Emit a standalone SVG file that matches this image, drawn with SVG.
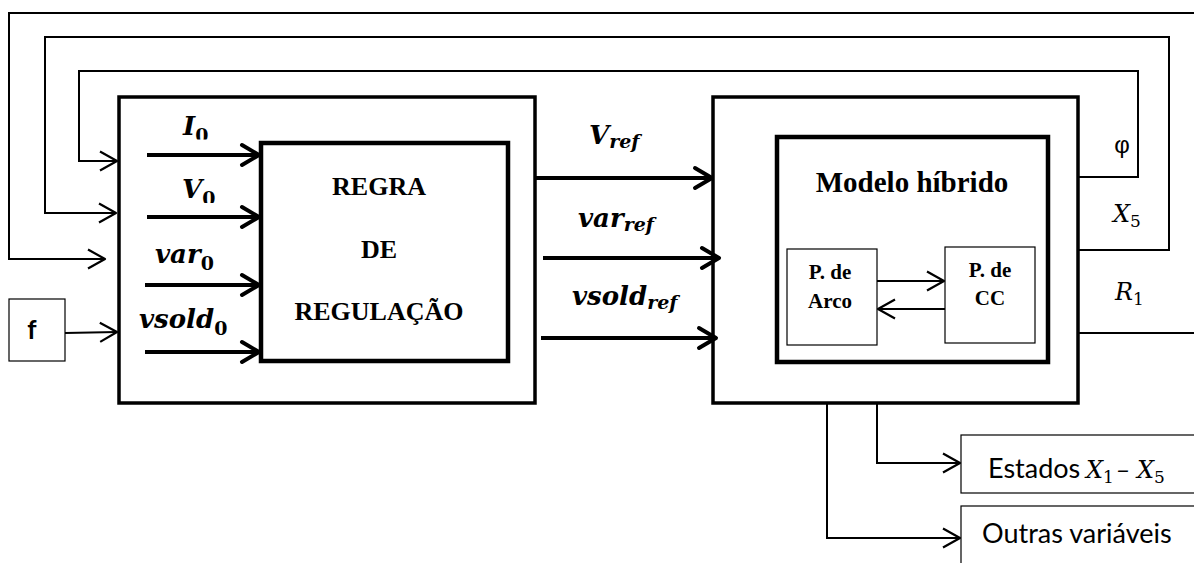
<svg xmlns="http://www.w3.org/2000/svg" width="1194" height="563" viewBox="0 0 1194 563">
<style>
.box{fill:#fff;stroke:#000}
.thin{fill:none;stroke:#000;stroke-width:2}
.thick{fill:none;stroke:#000;stroke-width:4}
.tb{font-family:"Liberation Serif",serif;font-weight:bold;fill:#000}
.mb{font-family:"DejaVu Serif",serif;font-weight:bold;font-style:italic;font-size:26px;fill:#000}
.mbs{font-size:19px}
.mbd{font-size:19px;font-style:normal}
.mi{font-family:"DejaVu Serif",serif;font-style:italic;font-size:24px;fill:#000}
.mid{font-size:17px;font-style:normal}
.sans{font-family:Lato,"Liberation Sans",sans-serif;fill:#000}
</style>
<defs>
<marker id="ahThick" viewBox="0 0 22 24" refX="19" refY="12" markerWidth="22" markerHeight="24" orient="auto" markerUnits="userSpaceOnUse" overflow="visible">
<path d="M2,2 L19,12 L2,22" fill="none" stroke="#000" stroke-width="4" stroke-linejoin="round" stroke-linecap="round"/>
</marker>
<marker id="ahThin" viewBox="0 0 20 22" refX="18" refY="11" markerWidth="20" markerHeight="22" orient="auto" markerUnits="userSpaceOnUse" overflow="visible">
<path d="M1,1.5 L18,11 L1,20.5" fill="none" stroke="#000" stroke-width="2.2" stroke-linejoin="round"/>
</marker>
<clipPath id="clipI0"><rect x="170" y="100" width="80" height="39.5"/></clipPath>
<clipPath id="clipV0"><rect x="170" y="165" width="80" height="38"/></clipPath>
</defs>

<g id="node-f">
<rect class="box" x="9" y="299" width="56" height="62" stroke-width="1.2"/>
<text class="sans" x="32" y="339" font-size="26" font-weight="bold" text-anchor="middle">f</text>
</g>

<g id="node-bloco-regulacao">
<rect class="box" x="119" y="97" width="416" height="306" stroke-width="3.5"/>
</g>

<g id="node-regra">
<rect class="box" x="261" y="143" width="247" height="218" stroke-width="4.5"/>
<text class="tb" x="379" y="195" font-size="26" text-anchor="middle">REGRA</text>
<text class="tb" x="379" y="258" font-size="26" text-anchor="middle">DE</text>
<text class="tb" x="379" y="320" font-size="26" text-anchor="middle">REGULAÇÃO</text>
</g>

<g id="node-bloco-modelo">
<rect class="box" x="713" y="97" width="365" height="306" stroke-width="3.5"/>
</g>

<g id="node-modelo-hibrido">
<rect class="box" x="777" y="137" width="271" height="225" stroke-width="4.5"/>
<text class="tb" x="912" y="192" font-size="29" text-anchor="middle">Modelo híbrido</text>
</g>

<g id="node-arco">
<rect class="box" x="787" y="249" width="90" height="96" stroke-width="1.2"/>
<text class="tb" x="830" y="279" font-size="21" text-anchor="middle">P. de</text>
<text class="tb" x="830" y="308" font-size="21" text-anchor="middle">Arco</text>
</g>

<g id="node-cc">
<rect class="box" x="945" y="247" width="90" height="96" stroke-width="1.2"/>
<text class="tb" x="990" y="277" font-size="21" text-anchor="middle">P. de</text>
<text class="tb" x="990" y="305" font-size="21" text-anchor="middle">CC</text>
</g>

<g id="node-estados">
<rect class="box" x="961" y="435" width="245" height="58" stroke-width="1.2"/>
<text class="sans" x="988" y="478" font-size="27">Estados</text>
<text class="mi" x="1086" y="478">X<tspan class="mid" dy="5">1</tspan></text>
<text class="mi" x="1117" y="478" font-style="normal">–</text>
<text class="mi" x="1137" y="478">X<tspan class="mid" dy="5">5</tspan></text>
</g>

<g id="node-outras">
<rect class="box" x="961" y="506" width="245" height="70" stroke-width="1.2"/>
<text class="sans" x="982" y="543" font-size="27">Outras variáveis</text>
</g>

<g id="connectors">
<path class="thin" d="M1078,333 H1197 V13 H9 V259 H105" marker-end="url(#ahThin)"/>
<path class="thin" d="M1078,250 H1169 V37 H45 V213 H116" marker-end="url(#ahThin)"/>
<path class="thin" d="M1078,177 H1138 V71 H79 V161 H117" marker-end="url(#ahThin)"/>
<path class="thin" d="M65,333 L117,332" marker-end="url(#ahThin)"/>

<path class="thick" d="M147,155 H259" marker-end="url(#ahThick)"/>
<path class="thick" d="M147,217 H259" marker-end="url(#ahThick)"/>
<path class="thick" d="M145,285 H259" marker-end="url(#ahThick)"/>
<path class="thick" d="M145,352 H259" marker-end="url(#ahThick)"/>

<path class="thick" d="M535,178 H712" marker-end="url(#ahThick)"/>
<path class="thick" d="M543,258 H719" marker-end="url(#ahThick)"/>
<path class="thick" d="M541,338 H716" marker-end="url(#ahThick)"/>

<path class="thin" d="M877,281 H944" marker-end="url(#ahThin)"/>
<path class="thin" d="M945,309 H878" marker-end="url(#ahThin)"/>

<path class="thin" d="M877,403 V463 H960" marker-end="url(#ahThin)"/>
<path class="thin" d="M827,403 V538 H960" marker-end="url(#ahThin)"/>

<g clip-path="url(#clipI0)"><text class="mb" x="183" y="135">I<tspan class="mbd" dy="7">0</tspan></text></g>
<g clip-path="url(#clipV0)"><text class="mb" x="182" y="198">V<tspan class="mbd" dy="7">0</tspan></text></g>
<text class="mb" x="155" y="263">var<tspan class="mbd" dy="7">0</tspan></text>
<text class="mb" x="139" y="328">vsold<tspan class="mbd" dy="7">0</tspan></text>

<text class="mb" x="589" y="144">V<tspan class="mbs" dy="4">ref</tspan></text>
<text class="mb" x="578" y="227">var<tspan class="mbs" dy="4">ref</tspan></text>
<text class="mb" x="572" y="305">vsold<tspan class="mbs" dy="4">ref</tspan></text>

<text x="1122" y="153" font-family="Liberation Sans, sans-serif" font-size="24" text-anchor="middle">φ</text>
<text class="mi" x="1113" y="222">X<tspan class="mid" dy="5">5</tspan></text>
<text class="mi" x="1115" y="300">R<tspan class="mid" dy="5">1</tspan></text>
</g>
</svg>
